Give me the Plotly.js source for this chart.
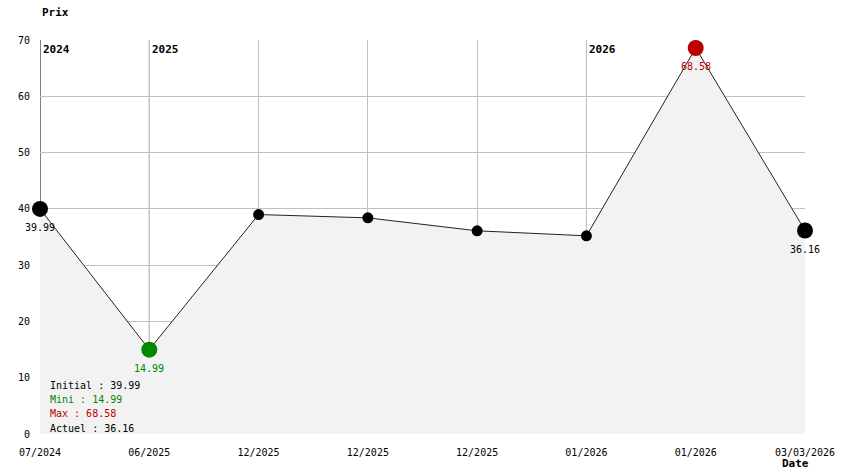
<!DOCTYPE html>
<html>
<head>
<meta charset="utf-8">
<script src="https://cdn.plot.ly/plotly-3.0.1.min.js"></script>
<style>html,body{margin:0;padding:0;background:#fff;}#chart{width:844px;height:474px;}</style>
</head>
<body>
<div id="chart"></div>
<script>
// Data
var dateLabels = ['07/2024','06/2025','12/2025','12/2025','12/2025','01/2026','01/2026','03/03/2026'];
var prices = [39.99, 14.99, 38.99, 38.40, 36.10, 35.21, 68.58, 36.16];
var yearLabels = ['2024','2025','2026'];
var yearIndex = [0, 1, 5];
var yTicks = [0,10,20,30,40,50,60,70];

var FONT = 'DejaVu Sans Mono, Liberation Mono, monospace';
var idx = dateLabels.map(function(_, i){ return i; });
var n = prices.length;
var minV = Math.min.apply(null, prices), maxV = Math.max.apply(null, prices);
var minI = prices.indexOf(minV), maxI = prices.indexOf(maxV);
var GREEN = '#008800', RED = '#bb0000';

var colors = [], sizes = [];
for (var i = 0; i < n; i++) {
  var c = '#000000', s = 11;
  if (i === 0 || i === n - 1) s = 16;
  if (i === minI) { c = GREEN; s = 16; }
  if (i === maxI) { c = RED; s = 16; }
  colors.push(c); sizes.push(s);
}

var areaTrace = {
  x: idx, y: prices, type: 'scatter', mode: 'lines',
  fill: 'tozeroy', fillcolor: '#f2f2f2',
  line: {color: '#222222', width: 1},
  cliponaxis: false, hoverinfo: 'skip', showlegend: false
};
var markerTrace = {
  x: idx, y: prices, type: 'scatter', mode: 'markers',
  marker: {color: colors, size: sizes, opacity: 1, line: {width: 0}},
  opacity: 1, cliponaxis: false, hoverinfo: 'skip', showlegend: false
};

var annotations = [];
// point labels
[0, minI, maxI, n - 1].forEach(function(i){
  annotations.push({x: i, y: prices[i], xref: 'x', yref: 'y', text: prices[i].toFixed(2),
    showarrow: false, yshift: -19, font: {family: FONT, size: 10, color: colors[i]}});
});
// year labels
yearIndex.forEach(function(i, k){
  annotations.push({x: i, y: 70, xref: 'x', yref: 'y', text: '<b>' + yearLabels[k] + '</b>',
    showarrow: false, xanchor: 'left', yanchor: 'top', xshift: 1, yshift: -1,
    font: {family: FONT, size: 11, color: '#000'}});
});
// stats
var stats = [
  ['Initial : ' + prices[0].toFixed(2), '#000000'],
  ['Mini : ' + minV.toFixed(2), GREEN],
  ['Max : ' + maxV.toFixed(2), RED],
  ['Actuel : ' + prices[n-1].toFixed(2), '#000000']
];
var statY = [385, 399, 413, 428];
stats.forEach(function(s, k){
  annotations.push({xref: 'paper', yref: 'paper', x: 8/765, y: (434 - statY[k]) / 394,
    text: s[0], showarrow: false, xanchor: 'left', yanchor: 'middle',
    font: {family: FONT, size: 10, color: s[1]}});
});

var shapes = yearIndex.map(function(i){
  return {type: 'line', xref: 'x', yref: 'y', x0: i, x1: i, y0: 0, y1: 70,
    line: {color: i === 0 ? '#000000' : '#808080', width: 1}, layer: 'below'};
});

var layout = {
  width: 844, height: 474,
  margin: {l: 40, r: 39, t: 40, b: 40},
  paper_bgcolor: '#ffffff', plot_bgcolor: '#ffffff',
  font: {family: FONT, size: 10, color: '#000'},
  xaxis: {
    range: [0, n - 1], tickvals: idx, ticktext: dateLabels,
    showgrid: true, gridcolor: '#c0c0c0', gridwidth: 1, zeroline: false,
    showline: false, ticks: '', tickfont: {family: FONT, size: 10},
    ticklabelstandoff: 11, fixedrange: true
  },
  yaxis: {
    range: [0, 70], tickvals: yTicks, showgrid: true, gridcolor: '#c0c0c0',
    zeroline: false, showline: false, ticks: '', tickfont: {family: FONT, size: 10},
    ticklabelstandoff: 9, fixedrange: true
  },
  annotations: annotations.concat([
    {xref: 'paper', yref: 'paper', x: 0, y: 1, xanchor: 'left', yanchor: 'middle', yshift: 28,
     text: '<b>Prix</b>', showarrow: false, font: {family: FONT, size: 11}},
    {xref: 'paper', yref: 'paper', x: 1, y: 0, xanchor: 'right', yanchor: 'middle', yshift: -29, xshift: 6,
     text: '<b>Date</b>', showarrow: false, font: {family: FONT, size: 11}}
  ]),
  shapes: shapes
};

Plotly.newPlot('chart', [areaTrace, markerTrace], layout, {displayModeBar: false, staticPlot: true});
</script>
</body>
</html>
